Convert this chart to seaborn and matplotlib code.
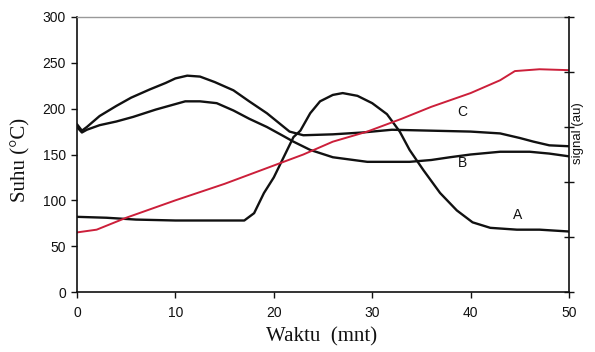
import matplotlib
matplotlib.use("Agg")
import matplotlib.pyplot as plt
import seaborn as sns
import pandas as pd

# ---- data ----
temp_x = [0, 2, 5, 10, 15, 20, 23, 26, 29.5, 33, 36, 40, 43, 44.5, 47, 50]
temp_y = [65, 68, 81, 100, 118, 138, 150, 164, 175, 189, 202, 217, 231, 241, 243, 242]

a_x = [0, 3, 6, 10, 14, 17, 18, 19, 20, 21, 22, 22.7, 23.7, 24.7, 26, 27, 28.5, 30,
       31.5, 32.8, 33.8, 35.2, 36.9, 38.6, 40.2, 42, 44.7, 47, 50]
a_y = [82, 81, 79, 78, 78, 78, 86, 108, 125, 147, 169, 176, 195, 208, 215, 217, 214, 206,
       194, 175, 155, 133, 108, 89, 76, 70, 68, 68, 66]

b_x = [0, 0.5, 1, 2.3, 4, 5.7, 8, 10, 11, 12.5, 14.2, 15.9, 17.5, 19.3, 21, 22, 23.7,
       26, 29.5, 33.8, 36, 37.9, 40, 43, 46, 48, 50]
b_y = [180, 174, 177, 182, 186, 191, 199, 205, 208, 208, 206, 198, 189, 180, 170, 164, 155,
       147, 142, 142, 144, 147, 150, 153, 153, 151, 148]

c_x = [0, 0.5, 1, 2.3, 4, 5.5, 7.4, 9, 10, 11.2, 12.5, 14, 15.9, 17.5, 19.3, 21.6, 23,
       26, 29, 32, 36, 40, 43, 45, 46.4, 48, 50]
c_y = [183, 176, 180, 192, 203, 212, 221, 228, 233, 236, 235, 229, 220, 208, 195, 175, 171,
       172, 174, 177, 176, 175, 173, 168, 164, 160, 159]

curve_labels = ["A", "B", "C"]
label_pos_x = [44.8, 39.2, 39.2]
label_pos_y = [84, 141, 196]

x_ticks = [0, 10, 20, 30, 40, 50]
y_ticks = [0, 50, 100, 150, 200, 250, 300]

# ---- style ----
sns.set_theme(style="ticks")
plt.rcParams["font.family"] = ["Liberation Sans", "DejaVu Sans"]

W, H = 595, 352
fig = plt.figure(figsize=(W / 100, H / 100), dpi=100)
ax = fig.add_axes([77 / W, 1 - 292 / H, (569 - 77) / W, (292 - 17) / H])

black = "#111111"
red = "#cc1f3a"

sns.lineplot(x=a_x, y=a_y, ax=ax, color=black, lw=1.7, sort=False)
sns.lineplot(x=b_x, y=b_y, ax=ax, color=black, lw=1.7, sort=False)
sns.lineplot(x=c_x, y=c_y, ax=ax, color=black, lw=1.7, sort=False)
sns.lineplot(x=temp_x, y=temp_y, ax=ax, color=red, lw=1.4, sort=False)

for t, tx, ty in zip(curve_labels, label_pos_x, label_pos_y):
    ax.text(tx, ty, t, fontsize=10, ha="center", va="center", color=black)

ax.set_xlim(0, 50)
ax.set_ylim(0, 300)
ax.set_xticks(x_ticks)
ax.set_yticks(y_ticks)
ax.tick_params(axis="both", direction="out", length=4, width=1, labelsize=10,
               colors=black, pad=4)
ax.tick_params(axis="x", pad=6)

serif = ["Liberation Serif", "DejaVu Serif"]
ax.set_xlabel("Waktu  (mnt)", fontsize=15, family=serif, color=black, va="center")
ax.set_ylabel("Suhu (°C)", fontsize=15, family=serif, color=black, va="center")
ax.xaxis.set_label_coords(0.497, -0.162)
ax.yaxis.set_label_coords(-0.115, 0.48)

for s in ["left", "bottom"]:
    ax.spines[s].set_color(black)
    ax.spines[s].set_linewidth(1.2)
ax.spines["top"].set_color("#999999")
ax.spines["top"].set_linewidth(1.0)
ax.spines["right"].set_visible(False)

ax2 = ax.twinx()
ax2.set_ylim(0, 5)
ax2.set_yticks([0, 1, 2, 3, 4, 5])
ax2.set_yticklabels([])
ax2.tick_params(axis="y", direction="inout", length=7, width=1, colors=black)
for s in ["left", "top", "bottom"]:
    ax2.spines[s].set_visible(False)
ax2.spines["right"].set_color(black)
ax2.spines["right"].set_linewidth(1.2)
ax2.set_ylabel("signal (au)", fontsize=9.5, rotation=90, color=black, va="center")
ax2.yaxis.set_label_coords(1.018, 0.578)

fig.savefig("out.png", dpi=100, facecolor="white")
